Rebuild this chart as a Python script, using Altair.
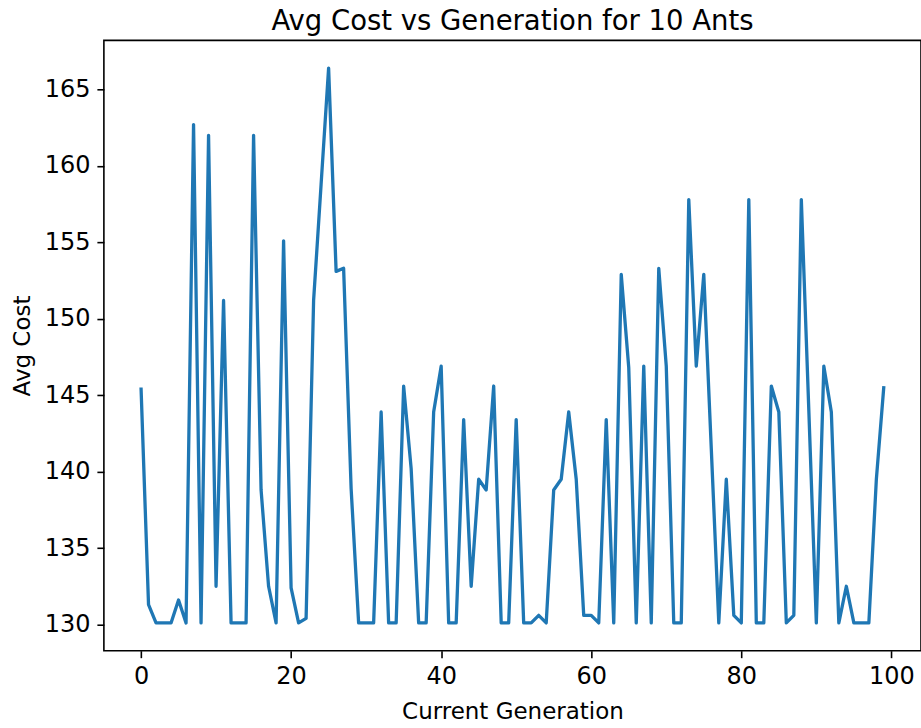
import altair as alt
import pandas as pd

generation = list(range(100))
avg_cost = [
    145.5, 131.3, 130.1, 130.1, 130.1, 131.6, 130.1, 162.7, 130.1, 162.0,
    132.5, 151.2, 130.1, 130.1, 130.1, 162.0, 138.8, 132.5, 130.1, 155.1,
    132.4, 130.1, 130.4, 151.2, 158.8, 166.4, 153.1, 153.3, 138.9, 130.1,
    130.1, 130.1, 143.9, 130.1, 130.1, 145.6, 140.2, 130.1, 130.1, 143.9,
    146.9, 130.1, 130.1, 143.4, 132.5, 139.5, 138.8, 145.6, 130.1, 130.1,
    143.4, 130.1, 130.1, 130.6, 130.1, 138.8, 139.5, 143.9, 139.5, 130.6,
    130.6, 130.1, 143.4, 130.1, 152.9, 146.8, 130.1, 146.9, 130.1, 153.3,
    146.9, 130.1, 130.1, 157.8, 146.9, 152.9, 141.5, 130.1, 139.5, 130.6,
    130.1, 157.8, 130.1, 130.1, 145.6, 143.9, 130.1, 130.6, 157.8, 144.0,
    130.1, 146.9, 143.9, 130.1, 132.5, 130.1, 130.1, 130.1, 139.5, 145.6,
]
x_ticks = [0, 20, 40, 60, 80, 100]
y_ticks = [130, 135, 140, 145, 150, 155, 160, 165]

df = pd.DataFrame({"gen": generation, "cost": avg_cost})

FONT = "DejaVu Sans"

chart = alt.Chart(df).mark_line(
    color="#1f77b4", strokeWidth=3.3, strokeJoin="round"
).encode(
    x=alt.X(
        "gen:Q",
        scale=alt.Scale(domain=[-4.95, 103.95], nice=False, zero=False),
        axis=alt.Axis(
            title="Current Generation",
            values=x_ticks,
            format="d",
            grid=False,
            domain=False,
            tickSize=7,
            tickWidth=1.6,
            tickColor="black",
            labelPadding=7,
            labelFontSize=24,
            labelFont=FONT,
            labelColor="black",
            titleFont=FONT,
            titleFontSize=23,
            titleFontWeight="normal",
            titleColor="black",
            titleY=68,
            titleBaseline="alphabetic",
        ),
    ),
    y=alt.Y(
        "cost:Q",
        scale=alt.Scale(domain=[128.285, 168.215], nice=False, zero=False),
        axis=alt.Axis(
            title="Avg Cost",
            values=y_ticks,
            format="d",
            grid=False,
            domain=False,
            tickSize=7,
            tickWidth=1.6,
            tickColor="black",
            labelPadding=7,
            labelFontSize=24,
            labelFont=FONT,
            labelColor="black",
            titleFont=FONT,
            titleFontSize=23,
            titleFontWeight="normal",
            titleColor="black",
            titleX=-74,
            titleBaseline="alphabetic",
        ),
    ),
).properties(
    width=818,
    height=611,
    title=alt.TitleParams(
        "Avg Cost vs Generation for 10 Ants",
        font=FONT,
        fontSize=27.5,
        fontWeight="normal",
        color="black",
        anchor="middle",
        baseline="alphabetic",
        offset=9,
        dy=26,
    ),
    autosize=alt.AutoSizeParams(type="none"),
    padding={"left": 104, "top": 40, "right": 0, "bottom": 77},
    background="white",
).configure_view(
    stroke="black", strokeWidth=1.6
)

chart.save("out.html", embed_options={"renderer": "svg", "actions": False})
